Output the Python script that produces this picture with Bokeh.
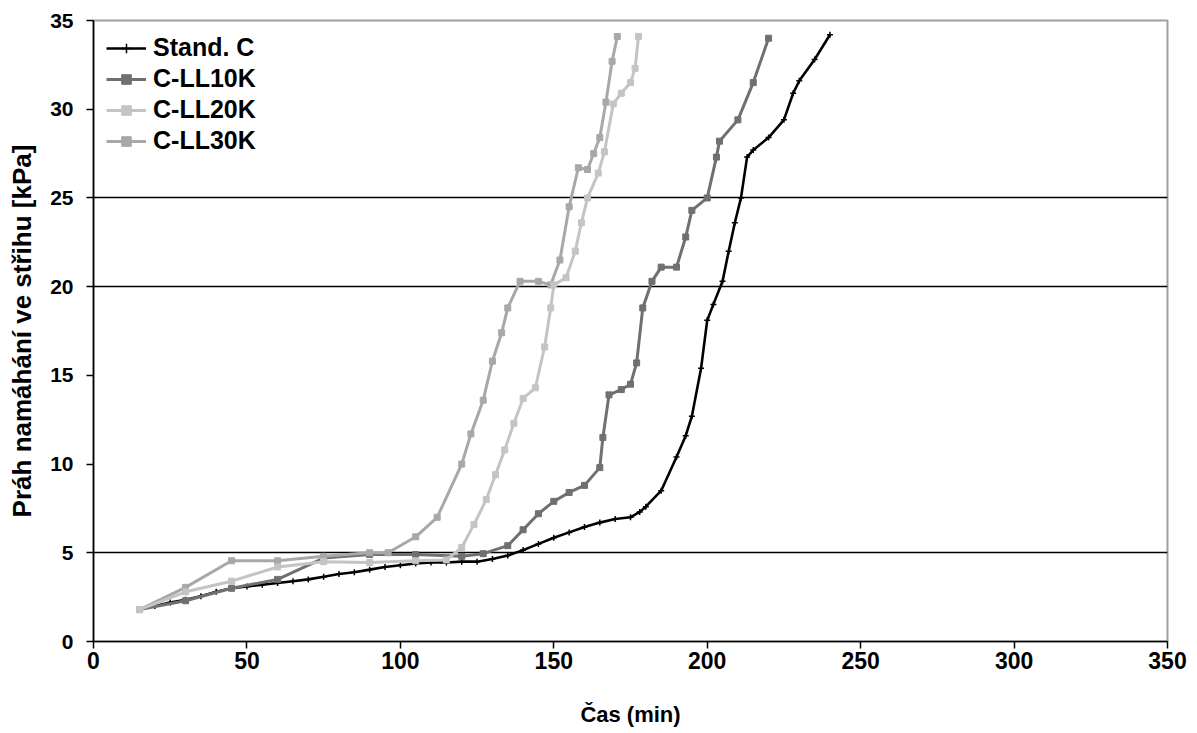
from bokeh.plotting import figure
from bokeh.models import Range1d, FixedTicker, Legend, LegendItem
from bokeh.embed import file_html
from bokeh.resources import INLINE

# ---- data ----
x_ticks = [0, 50, 100, 150, 200, 250, 300, 350]
y_ticks = [0, 5, 10, 15, 20, 25, 30, 35]
grid_levels = [5, 20, 25]

series_names = ["Stand. C", "C-LL10K", "C-LL20K", "C-LL30K"]

sc_x = [15, 20, 25, 30, 35, 40, 45, 50, 55, 60, 65, 70, 75, 80, 85, 90, 95, 100, 105, 110,
        115, 120, 125, 130, 135, 140, 145, 150, 155, 160, 165, 170, 175, 178, 180, 185, 190, 193, 195, 198,
        200, 202, 205, 207, 209, 211, 213, 215, 220, 225, 228, 230, 235, 240]
sc_y = [1.8, 2.0, 2.2, 2.35, 2.55, 2.8, 3.0, 3.1, 3.2, 3.3, 3.4, 3.5, 3.65, 3.8, 3.9, 4.05, 4.2, 4.3, 4.4, 4.45,
        4.45, 4.5, 4.5, 4.65, 4.85, 5.15, 5.5, 5.85, 6.15, 6.45, 6.7, 6.9, 7.0, 7.3, 7.6, 8.5, 10.4, 11.6, 12.7, 15.4,
        18.1, 19.0, 20.3, 22.0, 23.6, 25.0, 27.3, 27.7, 28.4, 29.4, 30.9, 31.6, 32.8, 34.2]

l10_x = [15, 30, 45, 60, 75, 90, 105, 120, 127, 135, 140, 145, 150, 155, 160, 165, 166, 168, 172, 175,
         177, 179, 182, 185, 190, 193, 195, 200, 203, 204, 210, 215, 220]
l10_y = [1.8, 2.3, 3.0, 3.5, 4.7, 4.9, 4.9, 4.8, 4.95, 5.4, 6.3, 7.2, 7.9, 8.4, 8.8, 9.8, 11.5, 13.9, 14.2, 14.5,
         15.7, 18.8, 20.3, 21.1, 21.1, 22.8, 24.3, 25.0, 27.3, 28.2, 29.4, 31.5, 34.0]

l20_x = [15, 30, 45, 60, 75, 90, 105, 115, 120, 124, 128, 131, 134, 137, 140, 144, 147, 149, 150, 154,
         157, 159, 161, 164.5, 166.5, 169.4, 172, 175, 176.5, 177.6]
l20_y = [1.8, 2.8, 3.4, 4.2, 4.5, 4.45, 4.55, 4.6, 5.3, 6.6, 8.0, 9.4, 10.8, 12.3, 13.7, 14.3, 16.6, 18.8, 20.1, 20.5,
         22.0, 23.6, 25.0, 26.4, 27.6, 30.3, 30.9, 31.5, 32.3, 34.1]

l30_x = [15, 30, 45, 60, 75, 90, 96, 105, 112, 120, 123, 127, 130, 133, 135, 139, 145, 149, 152, 155,
         158, 161, 163, 165, 167, 169, 170.7]
l30_y = [1.8, 3.05, 4.55, 4.55, 4.8, 5.0, 5.0, 5.9, 7.0, 10.0, 11.7, 13.6, 15.8, 17.4, 18.8, 20.3, 20.3, 20.1, 21.5, 24.5,
         26.7, 26.6, 27.5, 28.4, 30.4, 32.7, 34.1]

colors = ["#000000", "#707070", "#c4c4c4", "#a8a8a8"]
markers = ["cross", "square", "square", "square"]

FONT = "Liberation Sans"

p = figure(width=1197, height=733, output_backend="svg", toolbar_location=None,
           x_range=Range1d(0, 350), y_range=Range1d(0, 35),
           min_border_left=93, min_border_right=30, min_border_top=20, min_border_bottom=92)
p.background_fill_color = "white"
p.border_fill_color = "white"
p.outline_line_color = "#a0a0a0"
p.outline_line_width = 2

p.xgrid.visible = False
p.ygrid.ticker = FixedTicker(ticks=grid_levels)
p.ygrid.grid_line_color = "black"
p.ygrid.grid_line_width = 1.6

for ax, ticks in ((p.xaxis[0], x_ticks), (p.yaxis[0], y_ticks)):
    ax.ticker = FixedTicker(ticks=ticks)
    ax.axis_line_color = "black"
    ax.axis_line_width = 1.6
    ax.major_tick_line_color = "black"
    ax.major_tick_line_width = 1.5
    ax.major_tick_out = 7
    ax.major_tick_in = 0
    ax.minor_tick_line_color = None
    ax.major_label_text_font = FONT
    ax.major_label_text_font_style = "bold"
    ax.major_label_text_color = "black"
    ax.axis_label_text_font = FONT
    ax.axis_label_text_font_style = "bold"
    ax.axis_label_text_color = "black"

p.xaxis.major_label_text_font_size = "23px"
p.yaxis.major_label_text_font_size = "21px"
p.xaxis.axis_label_text_font_size = "22px"
p.yaxis.axis_label_text_font_size = "26px"

p.xaxis.axis_label = "Čas (min)"
p.yaxis.axis_label = "Práh namáhání ve střihu [kPa]"
p.xaxis.major_label_standoff = 3
p.yaxis.major_label_standoff = 13
p.xaxis.axis_label_standoff = 30
p.yaxis.axis_label_standoff = 10

data = [(sc_x, sc_y), (l10_x, l10_y), (l20_x, l20_y), (l30_x, l30_y)]
order = [0, 1, 3, 2]  # drawing order
rend = {}
for i in order:
    xs, ys = data[i]
    r_line = p.line(xs, ys, line_color=colors[i], line_width=3 if i else 2.6)
    if markers[i] == "cross":
        r_mark = p.scatter(xs, ys, marker="cross", size=6, line_color=colors[i], line_width=1.5)
    else:
        r_mark = p.scatter(xs, ys, marker="square", size=6, fill_color=colors[i], line_color=colors[i])
    rend[i] = [r_line, r_mark]

items = [LegendItem(label=series_names[i], renderers=rend[i]) for i in range(4)]

legend = Legend(items=items, location="top_left")
legend.background_fill_alpha = 0
legend.border_line_color = None
legend.margin = 13
legend.padding = 0
legend.spacing = 2
legend.glyph_height = 24
legend.label_height = 24
legend.glyph_width = 40
legend.label_standoff = 7
legend.label_text_font = FONT
legend.label_text_font_style = "bold"
legend.label_text_font_size = "25px"
legend.label_text_color = "black"
p.add_layout(legend)

open("out.html", "w").write(file_html(p, INLINE))
